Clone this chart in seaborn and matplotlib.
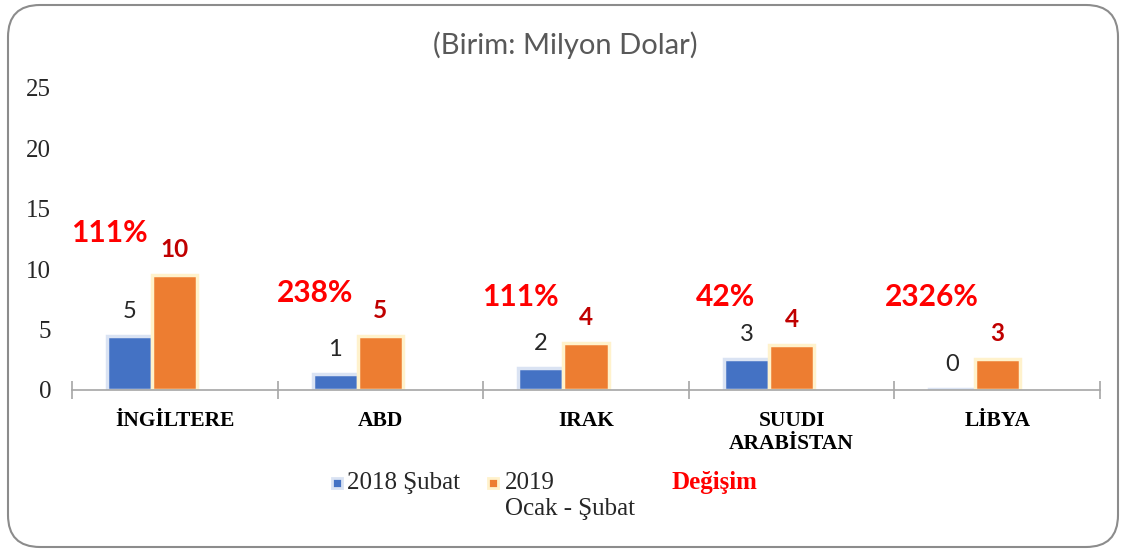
import numpy as np
import pandas as pd
import matplotlib.pyplot as plt
import seaborn as sns
from matplotlib.patches import FancyBboxPatch, Rectangle

# -----------------------------
# Data
# -----------------------------
countries = ["İNGİLTERE", "ABD", "IRAK", "SUUDI\nARABİSTAN", "LİBYA"]
subat_2018 = [4.5, 1.33, 1.85, 2.6, 0.107]
ocak_subat_2019 = [9.5, 4.5, 3.9, 3.7, 2.6]
degisim = [111, 238, 111, 42, 2326]  # percent change

series = ["2018 Şubat", "2019 Ocak - Şubat", "Değişim"]

data = pd.DataFrame({
    "Ulke": countries * 3,
    "Seri": [series[0]] * 5 + [series[1]] * 5 + [series[2]] * 5,
    "Deger": subat_2018 + ocak_subat_2019 + [np.nan] * 5,
})

BLUE = "#4472C4"
ORANGE = "#ED7D31"
SERIF = ["Liberation Serif", "DejaVu Serif"]
SANS = ["Lato", "DejaVu Sans"]

sns.set_theme(style="white")
plt.rcParams["font.family"] = SERIF

W, H = 1124, 552
fig = plt.figure(figsize=(W / 100, H / 100), dpi=100)
ax = fig.add_axes([72 / W, 1 - 390 / H, (1100 - 72) / W, (390 - 88) / H])

sns.barplot(
    data=data, x="Ulke", y="Deger", hue="Seri",
    hue_order=series, order=countries,
    palette={series[0]: BLUE, series[1]: ORANGE, series[2]: "white"},
    width=0.66, saturation=1, errorbar=None, legend=False, ax=ax,
)

blue_bars, orange_bars = ax.containers[0], ax.containers[1]
for bar in blue_bars:
    bar.set_edgecolor("#dae3f3")
    bar.set_linewidth(2.5)
for bar in orange_bars:
    bar.set_edgecolor("#fff2cc")
    bar.set_linewidth(2.5)

# value labels (Excel style half-up rounding)
ax.bar_label(blue_bars, labels=[str(int(v + 0.5)) for v in subat_2018],
             padding=10, fontsize=17, color="#262626", family=SANS)
ax.bar_label(orange_bars, labels=[str(int(v + 0.5)) for v in ocak_subat_2019],
             padding=10, fontsize=17.5, color="#C00000", fontweight="bold", family=SANS)

# percentage change labels
for bar, val, pct in zip(blue_bars, ocak_subat_2019, degisim):
    x = bar.get_x() + bar.get_width() / 2 - 0.1
    y = max(val + 3.5, 7.7)
    ax.text(x, y, f"{pct}%", ha="center", va="center", fontsize=21.5,
            fontweight="bold", color="#FF0000", family=SANS)

ax.set_ylim(0, 25)
ax.set_xlim(-0.5, 4.5)
ax.set_yticks([0, 5, 10, 15, 20, 25])
ax.set_xlabel("")
ax.set_ylabel("")

for side in ["left", "right", "top"]:
    ax.spines[side].set_visible(False)
ax.spines["bottom"].set_color("#a6a6a6")
ax.spines["bottom"].set_linewidth(1.2)

ax.set_xticks(np.arange(-0.5, 5, 1), minor=True)
ax.tick_params(axis="x", which="minor", direction="inout", length=13,
               width=1.2, color="#a6a6a6", bottom=True)
ax.tick_params(axis="x", which="major", length=0, pad=15)
ax.tick_params(axis="y", length=0, pad=15, labelsize=18, labelcolor="#262626")
for lbl in ax.get_xticklabels():
    lbl.set_fontweight("bold")
    lbl.set_fontsize(15.5)
    lbl.set_color("black")
    lbl.set_va("top")

# title
fig.text(0.503, 1 - 45 / H, "(Birim: Milyon Dolar)", ha="center", va="center",
         fontsize=21, color="#595959", family=SANS)

# legend (drawn by hand so the marker sits on the first text line)
def square(px, py, face, edge):
    fig.add_artist(Rectangle(((px - 5) / W, 1 - (py + 5) / H), 10 / W, 10 / H,
                             transform=fig.transFigure, facecolor=face,
                             edgecolor=edge, linewidth=2))

square(337, 483, BLUE, "#dae3f3")
fig.text(347 / W, 1 - 483 / H, "2018 Şubat", ha="left", va="center",
         fontsize=18, color="#262626")
square(493, 483, ORANGE, "#fff2cc")
fig.text(505 / W, 1 - 483 / H, "2019", ha="left", va="center",
         fontsize=18, color="#262626")
fig.text(505 / W, 1 - 509 / H, "Ocak - Şubat", ha="left", va="center",
         fontsize=18, color="#262626")
fig.text(672 / W, 1 - 483 / H, "Değişim", ha="left", va="center",
         fontsize=18, color="#FF0000", fontweight="bold")

# rounded chart frame
fig.add_artist(FancyBboxPatch((8, 5), 1110, 542,
                              boxstyle="round,pad=0,rounding_size=32",
                              transform=None, facecolor="none",
                              edgecolor="#8c8c8c", linewidth=1.5))

fig.savefig("out.png", dpi=100)
